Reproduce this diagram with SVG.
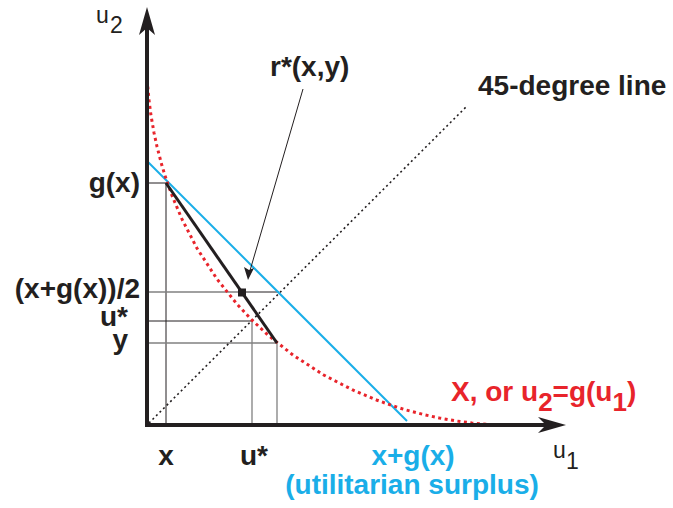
<svg xmlns="http://www.w3.org/2000/svg" width="673" height="508" viewBox="0 0 673 508">
<style>
.lbl{font-family:"Liberation Sans",Arial,sans-serif;font-weight:bold;font-size:28px;fill:#231f20}
.ax{font-family:"Liberation Sans",Arial,sans-serif;font-size:23px;fill:#231f20}
.blue{fill:#1aaee8}
.red{fill:#e8242b}
.thin{stroke:#231f20;stroke-width:1;fill:none}
.grey{stroke:#808080;stroke-width:1.3;fill:none}
</style>
<rect width="673" height="508" fill="#ffffff"/>
<g id="guides">
<line class="thin" x1="147" y1="183" x2="166" y2="183"/>
<line class="thin" x1="166" y1="183" x2="166" y2="425"/>
<line class="grey" x1="147" y1="292" x2="240" y2="292"/>
<line class="thin" x1="240" y1="292" x2="279" y2="292"/>
<line class="thin" x1="147" y1="321" x2="252" y2="321"/>
<line class="grey" x1="252" y1="321" x2="252" y2="425"/>
<line class="grey" x1="147" y1="343" x2="277" y2="343"/>
<line class="grey" x1="277" y1="343" x2="277" y2="425"/>
</g>
<g id="diagonal">
<line x1="149" y1="423" x2="466" y2="107" stroke="#231f20" stroke-width="1.6" stroke-dasharray="2 3"/>
</g>
<g id="surplus-line">
<line x1="147" y1="161" x2="407" y2="421" stroke="#1aaee8" stroke-width="2"/>
</g>
<g id="frontier">
<polyline fill="none" stroke="#e8242b" stroke-width="3" stroke-dasharray="3 3.5" points="147,67 147.5,82.4 148,89.5 149,100.1 151,115.5 154,132.7 157,146.6 162,165.8 166,178.7 172,195.5 182,219.2 197,248.3 217,279.1 237,304.1 252,320.1 267.9,335 292.9,355 323.7,375 352.8,390 376.5,400 393.3,406 406.2,410 425.4,415 439.3,418 456.5,421 471.9,423 482.5,424 489.6,424.5 505,425"/>
</g>
<g id="segment">
<line x1="166" y1="183" x2="277" y2="343" stroke="#231f20" stroke-width="3"/>
</g>
<g id="midpoint">
<rect x="238" y="288.5" width="8" height="8" fill="#231f20"/>
</g>
<g id="axes">
<line x1="147" y1="427" x2="147" y2="28" stroke="#231f20" stroke-width="4"/>
<path d="M147,7 L155,35 L147,28 L139,35 Z" fill="#231f20"/>
<line x1="145" y1="425" x2="547" y2="425" stroke="#231f20" stroke-width="4"/>
<path d="M566,425 L538,433 L546,425 L538,417 Z" fill="#231f20"/>
</g>
<g id="connectors">
<line x1="303" y1="89" x2="249" y2="274" stroke="#231f20" stroke-width="1"/>
<path d="M248,280 L244,267 L249,270 L254,268 Z" fill="#231f20"/>
</g>
<g id="labels">
<text class="ax" x="96" y="23">u</text>
<text class="ax" x="110" y="33">2</text>
<text class="ax" x="553" y="458">u</text>
<text class="ax" x="566" y="469">1</text>
<text class="lbl" x="270" y="76">r*(x,y)</text>
<text class="lbl" x="478" y="95">45-degree line</text>
<text class="lbl" x="140" y="192" text-anchor="end">g(x)</text>
<text class="lbl" x="140" y="298" text-anchor="end">(x+g(x))/2</text>
<text class="lbl" x="128" y="326" text-anchor="end">u*</text>
<text class="lbl" x="128" y="349" text-anchor="end">y</text>
<text class="lbl" x="166" y="465" text-anchor="middle">x</text>
<text class="lbl" x="240" y="465">u*</text>
<text class="lbl blue" x="413" y="465" text-anchor="middle">x+g(x)</text>
<text class="lbl blue" x="412" y="494" text-anchor="middle">(utilitarian surplus)</text>
<text class="lbl red" x="451" y="401" font-size="29">X, or u<tspan dy="10" font-size="26">2</tspan><tspan dy="-10">=g(u</tspan><tspan dy="10" font-size="26">1</tspan><tspan dy="-10">)</tspan></text>
</g>
</svg>
